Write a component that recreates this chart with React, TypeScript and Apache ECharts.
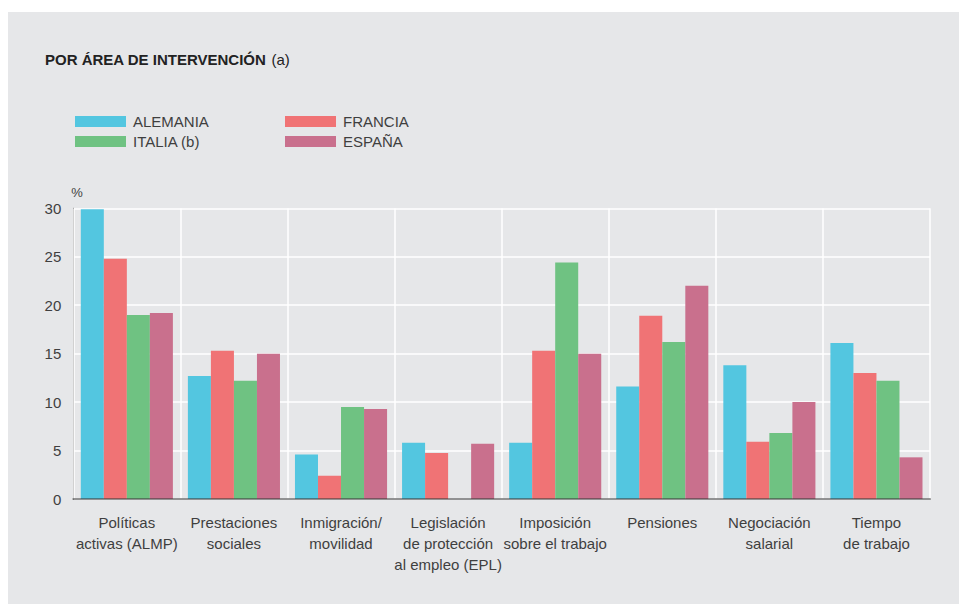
import React, { useEffect, useRef } from "react";
import * as echarts from "echarts";

const categories = [
  "Políticas\nactivas (ALMP)",
  "Prestaciones\nsociales",
  "Inmigración/\nmovilidad",
  "Legislación\nde protección\nal empleo (EPL)",
  "Imposición\nsobre el trabajo",
  "Pensiones",
  "Negociación\nsalarial",
  "Tiempo\nde trabajo",
];

const alemania = [29.9, 12.7, 4.6, 5.8, 5.8, 11.6, 13.8, 16.1];
const francia = [24.8, 15.3, 2.4, 4.75, 15.3, 18.9, 5.9, 13.0];
const italia: (number | null)[] = [19.0, 12.2, 9.5, null, 24.4, 16.2, 6.8, 12.2];
const espana = [19.2, 15.0, 9.3, 5.7, 15.0, 22.0, 10.0, 4.3];

const seriesNames = ["ALEMANIA", "FRANCIA", "ITALIA (b)", "ESPAÑA"];
const seriesColors = ["#53c6e0", "#f07375", "#6fc282", "#c9708d"];
const seriesData = [alemania, francia, italia, espana];

const FONT = "'Liberation Sans', Arial, Helvetica, sans-serif";
const TEXT = "#3f3f3f";
const BG = "#e6e7e9";

export default function App() {
  const ref = useRef<HTMLDivElement>(null);
  useEffect(() => {
    if (!ref.current) return;
    const chart = echarts.init(ref.current, null, { renderer: "svg" });
    const legendCommon = {
      orient: "vertical" as const,
      top: 102,
      padding: 0,
      itemWidth: 51,
      itemHeight: 11,
      itemGap: 5,
      icon: "rect",
      selectedMode: false,
      textStyle: { fontFamily: FONT, fontSize: 15, color: TEXT, padding: [0, 0, 0, 2] },
    };
    chart.setOption({
      animation: false,
      backgroundColor: BG,
      textStyle: { fontFamily: FONT },
      title: {
        left: 37,
        top: 38,
        padding: 0,
        text: "{b|POR ÁREA DE INTERVENCIÓN} {r|(a)}",
        textStyle: {
          fontWeight: "normal",
          rich: {
            b: { fontFamily: FONT, fontSize: 15, fontWeight: "bold", color: "#222" },
            r: { fontFamily: FONT, fontSize: 15, fontWeight: "normal", color: "#222" },
          },
        },
      },
      legend: [
        { ...legendCommon, left: 67, data: ["ALEMANIA", "ITALIA (b)"] },
        { ...legendCommon, left: 277, data: ["FRANCIA", "ESPAÑA"] },
      ],
      grid: { left: 65.3, top: 196.3, right: 29, bottom: 105, containLabel: false },
      xAxis: {
        type: "category",
        data: categories,
        z: 10,
        axisLine: { show: true, lineStyle: { color: "rgba(60,60,60,0.55)", width: 2 } },
        axisTick: { show: false },
        splitLine: { show: true, lineStyle: { color: "#ffffff", width: 1.5 } },
        axisLabel: {
          interval: 0,
          margin: 13,
          fontFamily: FONT,
          fontSize: 15,
          lineHeight: 21,
          color: TEXT,
        },
      },
      yAxis: {
        type: "value",
        min: 0,
        max: 30,
        interval: 5,
        name: "%",
        nameLocation: "end",
        nameGap: 9,
        nameTextStyle: { fontFamily: FONT, fontSize: 13, color: TEXT, align: "left", padding: [0, 0, 0, -2] },
        axisLine: { show: true, lineStyle: { color: "#4a4a4a", width: 1 } },
        axisTick: { show: false },
        splitLine: { show: true, lineStyle: { color: "#ffffff", width: 1.5 } },
        axisLabel: { margin: 12, fontFamily: FONT, fontSize: 15, color: TEXT },
      },
      series: seriesNames.map((name, i) => ({
        name,
        type: "bar",
        data: seriesData[i],
        barGap: "0%",
        barCategoryGap: "14%",
        itemStyle: { color: seriesColors[i] },
      })),
    });
    return () => chart.dispose();
  }, []);
  return (
    <div
      ref={ref}
      style={{ position: "fixed", left: 8, top: 12, width: 951, height: 592 }}
    />
  );
}
